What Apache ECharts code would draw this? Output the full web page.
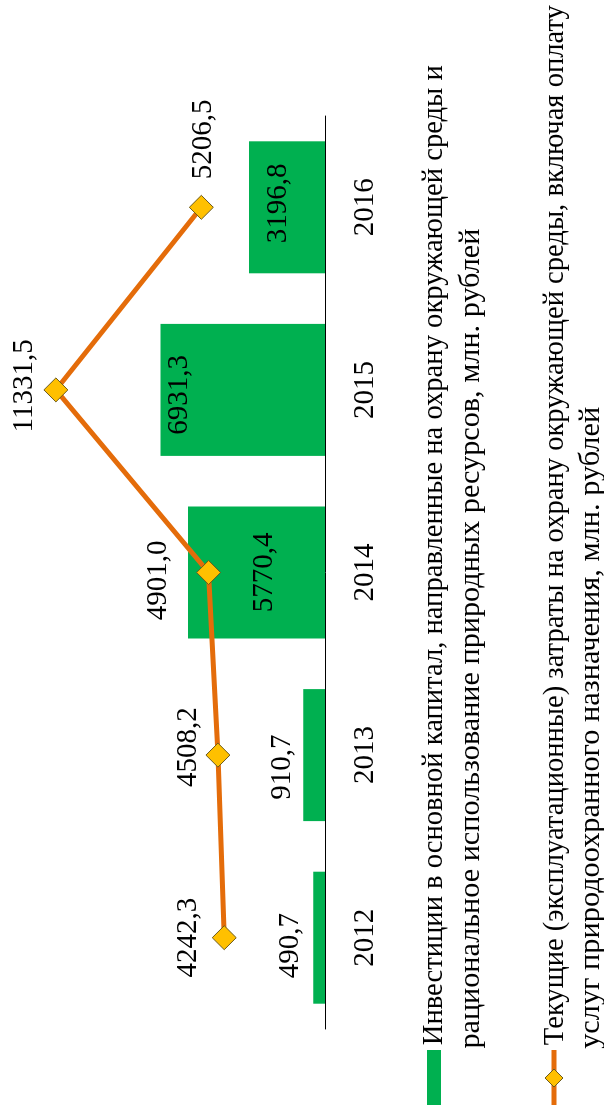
<!DOCTYPE html>
<html>
<head>
<meta charset="utf-8">
<script src="https://cdn.jsdelivr.net/npm/echarts@6/dist/echarts.min.js"></script>
<style>
  html, body { margin: 0; padding: 0; width: 604px; height: 1105px; overflow: hidden; background: #fff; }
  /* the chart is laid out landscape and turned a quarter turn to read bottom-to-top */
  #chart {
    position: absolute; left: 0; top: 0;
    width: 1105px; height: 604px;
    transform-origin: 0 0;
    transform: translate(0, 1105px) rotate(-90deg);
  }
</style>
</head>
<body>
<div id="chart"></div>
<script>
const years = ['2012', '2013', '2014', '2015', '2016'];
const investments = [490.7, 910.7, 5770.4, 6931.3, 3196.8];
const currentCosts = [4242.3, 4508.2, 4901.0, 11331.5, 5206.5];

const investLines = [
  'Инвестиции в основной капитал, направленные на охрану окружающей среды и',
  'рациональное использование природных ресурсов, млн. рублей'
];
const costsLines = [
  'Текущие (эксплуатационные) затраты на охрану окружающей среды, включая оплату',
  'услуг природоохранного назначения, млн. рублей'
];

// label nudges in px, measured from the centre of each bar / marker
const barLabelShift = [[-8, -29], [-12, -32], [0, 8], [-5, -63], [4, -9]];
const lineLabelShift = [[0, -36], [8, -30], [-8, -50], [4, -31], [68, 2]];

const FONT = '"Liberation Serif", "Times New Roman", serif';
const GREEN = '#00B050';
const ORANGE = '#E46C0A';
const GOLD = '#FFC000';
const fmt = v => Number(v).toFixed(1).replace('.', ',');

// legend captions: one text element per line, stretched to the set line width
const LEGEND_FONT = 28.5;
function captionLines(lines, firstMid, step, widths) {
  return lines.map((t, i) => ({
    type: 'text',
    x: 60,
    y: firstMid + i * step,
    style: {
      text: t, fontSize: LEGEND_FONT, fontFamily: FONT, fill: '#000',
      verticalAlign: 'middle', align: 'left'
    },
    _w: widths[i]
  }));
}

const chart = echarts.init(document.getElementById('chart'), null, { renderer: 'canvas' });

function measure(text) {
  const c = document.createElement('canvas').getContext('2d');
  c.font = LEGEND_FONT + 'px ' + FONT;
  return c.measureText(text).width;
}

const legendText = captionLines(investLines, 435, 37, [980, 820])
  .concat(captionLines(costsLines, 556, 36, [1040, 642]))
  .map(el => {
    const natural = measure(el.style.text);
    const s = Math.max(1, el._w / natural);
    delete el._w;
    el.scaleX = s;
    el.originX = 60;
    el.x = 60;
    return el;
  });

chart.setOption({
  animation: false,
  backgroundColor: '#fff',
  grid: { left: 76, right: 116, top: 40, height: 285 },
  xAxis: {
    type: 'category',
    data: years,
    axisLine: { lineStyle: { color: '#000', width: 1 } },
    axisTick: { length: 8, lineStyle: { color: '#000' } },
    axisLabel: { color: '#000', fontSize: 29, fontFamily: FONT, margin: 26 }
  },
  yAxis: { type: 'value', min: 0, max: 12000, show: false },
  series: [
    {
      name: investLines.join(' '),
      type: 'bar',
      barWidth: 132,
      itemStyle: { color: GREEN },
      data: investments.map((v, i) => ({
        value: v,
        label: { offset: barLabelShift[i] }
      })),
      label: {
        show: true, position: 'inside', color: '#000',
        fontSize: 29, fontFamily: FONT,
        formatter: p => fmt(p.value)
      },
      z: 2
    },
    {
      name: costsLines.join(' '),
      type: 'line',
      symbol: 'diamond',
      symbolSize: 24,
      lineStyle: { color: ORANGE, width: 5 },
      itemStyle: { color: GOLD, borderColor: '#6b5a1e', borderWidth: 1 },
      data: currentCosts.map((v, i) => ({
        value: v,
        label: { offset: lineLabelShift[i] }
      })),
      label: {
        show: true, position: 'inside', color: '#000',
        fontSize: 29, fontFamily: FONT,
        formatter: p => fmt(p.value)
      },
      z: 3
    }
  ],
  graphic: [
    { type: 'rect', shape: { x: 0, y: 427, width: 55, height: 14 }, style: { fill: GREEN } },
    { type: 'line', shape: { x1: 0, y1: 554, x2: 55, y2: 554 }, style: { stroke: ORANGE, lineWidth: 5 } },
    {
      type: 'polygon',
      shape: { points: [[27, 545], [36, 554], [27, 563], [18, 554]] },
      style: { fill: GOLD, stroke: '#6b5a1e', lineWidth: 1 }
    }
  ].concat(legendText)
});
</script>
</body>
</html>
